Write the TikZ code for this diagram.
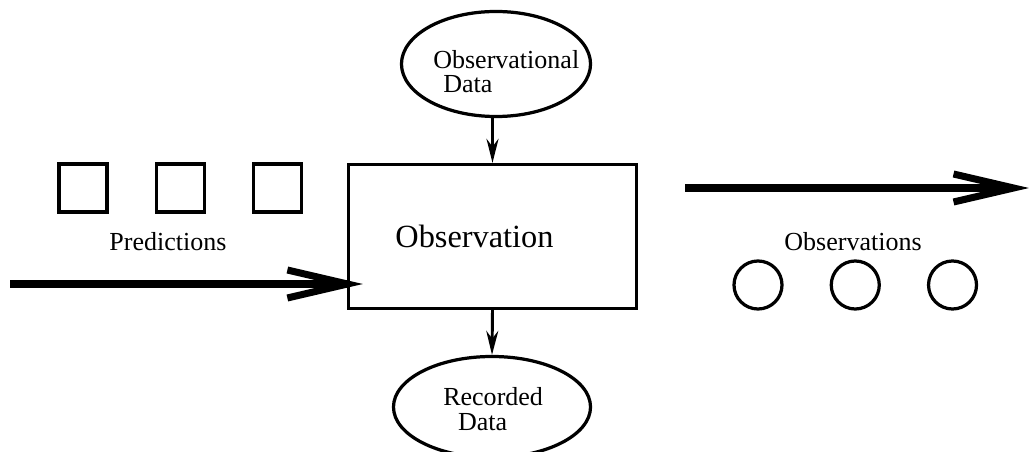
\documentclass[tikz,border=0pt]{standalone}
\usepackage{fontspec}
\setmainfont{Liberation Serif}
\usetikzlibrary{arrows.meta,positioning,shapes.geometric}

\begin{document}
\begin{tikzpicture}[
  x=0.025cm, y=-0.025cm,
  node distance=1.15cm,
  process/.style={draw, line width=2.3pt, minimum width=7.2cm,
    minimum height=3.6cm, font=\fontsize{23}{27}\selectfont},
  datum/.style={draw, ellipse, line width=2.3pt, inner sep=0pt},
  token/.style={draw, line width=2.3pt, minimum size=1.2cm, inner sep=0pt},
  result/.style={draw, circle, line width=2.3pt, minimum size=1.2cm, inner sep=0pt},
  lbl/.style={font=\fontsize{18.5}{17.5}\selectfont, inner sep=0pt, align=left},
  arrow/.style={-{Stealth[length=6mm, width=3mm]}, line width=2.1pt},
  bigarrow/.style={-{Straight Barb[length=15mm, width=7mm]}, line width=5pt}
]
\useasboundingbox (0,0) rectangle (1029,452);

\node[process] (obs) at (492.5,236.5) {Observation\kern0.9cm};
\node[datum, minimum width=4.725cm, minimum height=2.625cm] (obsdata) at (496,64) {};
\node[lbl, anchor=base west] (obsdatatext) at (433,93) {Observational\\\hspace*{0.25cm}Data};
\node[datum, minimum width=4.925cm, minimum height=2.525cm] (recdata) at (492,407) {};
\node[lbl, anchor=base west] (recdatatext) at (443,430) {Recorded\\\hspace*{0.37cm}Data};

\node[token] (pred1) at (83,188) {};
\node[token, right=of pred1] (pred2) {};
\node[token, right=of pred2] (pred3) {};
\node[lbl, anchor=base] (predtext) at (168,250) {Predictions};

\node[result] (res1) at (758,285) {};
\node[result, right=of res1] (res2) {};
\node[result, right=of res2] (res3) {};
\node[lbl, anchor=base] (restext) at (853,250) {Observations};

\coordinate (predstart) at (10,284);
\coordinate (resstart) at (685,188);
\coordinate (resend) at (1029,188);

\draw[arrow] (obs.north |- obsdata.south) -- (obs.north);
\draw[arrow] (obs.south) -- (recdata.north);
\draw[bigarrow] (predstart) -- ([xshift=0.4cm]predstart -| obs.west);
\draw[bigarrow] (resstart) -- (resend);
\end{tikzpicture}
\end{document}
